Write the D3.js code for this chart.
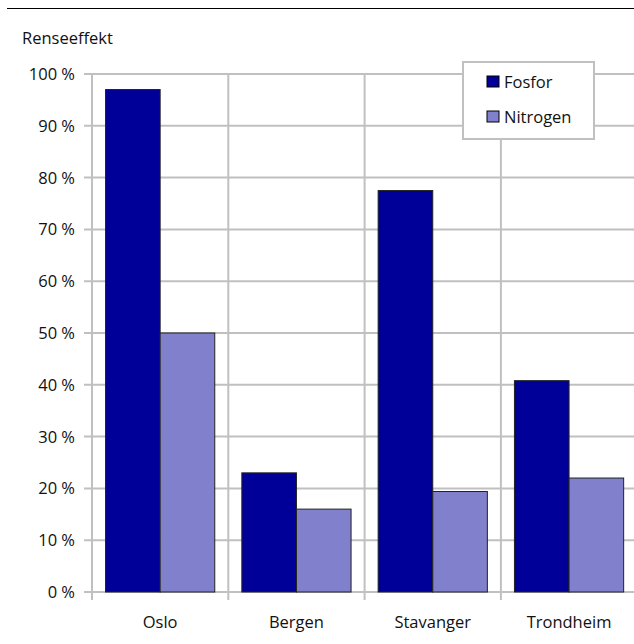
<!DOCTYPE html>
<html>
<head>
<meta charset="utf-8">
<script src="https://cdn.jsdelivr.net/npm/d3@7"></script>
<style>
  body { margin: 0; background: #fff; }
  text { font-family: "Open Sans", "DejaVu Sans", sans-serif; fill: #111; }
</style>
</head>
<body>
<div id="chart"></div>
<script>
// data
const cities = ["Oslo", "Bergen", "Stavanger", "Trondheim"];
const seriesNames = ["Fosfor", "Nitrogen"];
const fosfor = [97, 23, 77.5, 40.8];
const nitrogen = [50, 16, 19.4, 22];
const yTicks = [0, 10, 20, 30, 40, 50, 60, 70, 80, 90, 100];
const colors = ["#000099", "#8080cc"];

const W = 634, H = 644;
const margin = {top: 74, left: 92, bottom: 52};
const plotBottom = H - margin.bottom;
const bandW = 136.3;
const fontSize = "16.5px";

const svg = d3.select("#chart").append("svg")
    .attr("width", W)
    .attr("height", H);

// thin rule at top of page
svg.append("line")
    .attr("x1", 7).attr("x2", W)
    .attr("y1", 8.5).attr("y2", 8.5)
    .attr("stroke", "#000").attr("stroke-width", 1);

const x = d3.scaleBand()
    .domain(cities)
    .range([margin.left, margin.left + bandW * cities.length]);

const xSub = d3.scaleBand()
    .domain(seriesNames)
    .range([0, x.bandwidth()])
    .paddingOuter(0.248);

const y = d3.scaleLinear()
    .domain([0, 100])
    .range([plotBottom, margin.top]);

// horizontal gridlines
svg.append("g")
  .selectAll("line")
  .data(yTicks)
  .join("line")
    .attr("x1", margin.left - 8)
    .attr("x2", W)
    .attr("y1", d => y(d))
    .attr("y2", d => y(d))
    .attr("stroke", "#c0c0c0")
    .attr("stroke-width", 2);

// vertical gridlines at category borders (with tick below)
svg.append("g")
  .selectAll("line")
  .data(cities)
  .join("line")
    .attr("x1", d => x(d))
    .attr("x2", d => x(d))
    .attr("y1", margin.top)
    .attr("y2", plotBottom + 8)
    .attr("stroke", "#c0c0c0")
    .attr("stroke-width", 2);

// y tick labels
svg.append("g")
  .selectAll("text")
  .data(yTicks)
  .join("text")
    .attr("x", 75)
    .attr("y", d => y(d))
    .attr("dy", "0.36em")
    .attr("text-anchor", "end")
    .style("font-size", fontSize)
    .text(d => d + " %");

// x labels
svg.append("g")
  .selectAll("text")
  .data(cities)
  .join("text")
    .attr("x", d => x(d) + x.bandwidth() / 2)
    .attr("y", 628)
    .attr("text-anchor", "middle")
    .style("font-size", fontSize)
    .text(d => d);

// bars
const rows = cities.map((c, i) => ({city: c, values: [fosfor[i], nitrogen[i]]}));

const groups = svg.append("g")
  .selectAll("g")
  .data(rows)
  .join("g")
    .attr("transform", d => `translate(${x(d.city)},0)`);

groups.selectAll("rect")
  .data(d => d.values.map((v, j) => ({name: seriesNames[j], value: v, color: colors[j]})))
  .join("rect")
    .attr("x", d => xSub(d.name))
    .attr("width", xSub.bandwidth())
    .attr("y", d => y(d.value))
    .attr("height", d => plotBottom - y(d.value))
    .attr("fill", d => d.color)
    .attr("stroke", "#222")
    .attr("stroke-width", 1);

// axis title
svg.append("text")
    .attr("x", 22)
    .attr("y", 44)
    .style("font-size", fontSize)
    .text("Renseeffekt");

// legend
const legend = svg.append("g");
legend.append("rect")
    .attr("x", 463)
    .attr("y", 62)
    .attr("width", 131)
    .attr("height", 77)
    .attr("fill", "#fff")
    .attr("stroke", "#c0c0c0")
    .attr("stroke-width", 2);

const items = legend.selectAll("g")
  .data(seriesNames)
  .join("g")
    .attr("transform", (d, i) => `translate(487,${76 + i * 35})`);

items.append("rect")
    .attr("width", 12)
    .attr("height", 11)
    .attr("fill", (d, i) => colors[i])
    .attr("stroke", "#000")
    .attr("stroke-width", 1);

items.append("text")
    .attr("x", 17)
    .attr("y", 6)
    .attr("dy", "0.36em")
    .style("font-size", fontSize)
    .text(d => d);
</script>
</body>
</html>
